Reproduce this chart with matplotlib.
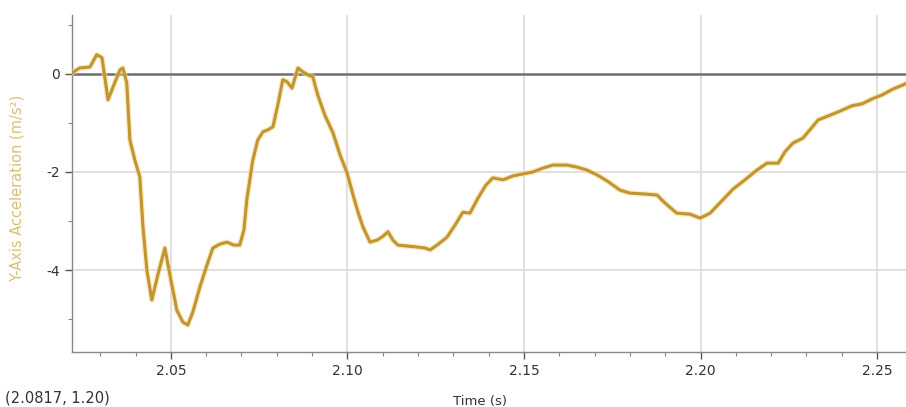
import matplotlib.pyplot as plt
from matplotlib.ticker import MultipleLocator

# Datos
time_s = [2.0220, 2.0242, 2.0271, 2.0290, 2.0305, 2.0322, 2.0341, 2.0356, 2.0364, 2.0375,
          2.0384, 2.0398, 2.0412, 2.0421, 2.0432, 2.0446, 2.0463, 2.0483, 2.0500, 2.0517,
          2.0534, 2.0548, 2.0562, 2.0582, 2.0602, 2.0619, 2.0639, 2.0659, 2.0678, 2.0695,
          2.0707, 2.0715, 2.0732, 2.0746, 2.0761, 2.0775, 2.0789, 2.0803, 2.0817, 2.0829,
          2.0843, 2.0860, 2.0874, 2.0888, 2.0902, 2.0916, 2.0936, 2.0959, 2.0979, 2.0999,
          2.1016, 2.1030, 2.1044, 2.1064, 2.1084, 2.1101, 2.1115, 2.1129, 2.1143, 2.1169,
          2.1197, 2.1220, 2.1234, 2.1254, 2.1282, 2.1305, 2.1327, 2.1347, 2.1370, 2.1392,
          2.1412, 2.1441, 2.1469, 2.1497, 2.1525, 2.1554, 2.1582, 2.1622, 2.1650, 2.1678,
          2.1707, 2.1735, 2.1772, 2.1800, 2.1843, 2.1877, 2.1899, 2.1933, 2.1970, 2.1999,
          2.2027, 2.2055, 2.2092, 2.2126, 2.2160, 2.2188, 2.2220, 2.2239, 2.2262, 2.2290,
          2.2310, 2.2333, 2.2361, 2.2395, 2.2429, 2.2458, 2.2486, 2.2514, 2.2545, 2.2582]
accel = [0.02, 0.12, 0.14, 0.39, 0.33, -0.53, -0.18, 0.08, 0.12, -0.18,
         -1.35, -1.76, -2.10, -3.12, -4.00, -4.61, -4.10, -3.55, -4.20, -4.82,
         -5.06, -5.12, -4.86, -4.35, -3.90, -3.55, -3.47, -3.43, -3.49, -3.49,
         -3.18, -2.57, -1.76, -1.35, -1.18, -1.14, -1.08, -0.63, -0.12, -0.16,
         -0.29, 0.12, 0.04, -0.02, -0.06, -0.43, -0.84, -1.20, -1.65, -2.02,
         -2.47, -2.82, -3.12, -3.43, -3.39, -3.31, -3.22, -3.39, -3.49, -3.51,
         -3.53, -3.55, -3.59, -3.49, -3.33, -3.08, -2.82, -2.84, -2.53, -2.27,
         -2.12, -2.16, -2.08, -2.04, -2.00, -1.92, -1.86, -1.86, -1.90, -1.96,
         -2.06, -2.18, -2.37, -2.43, -2.45, -2.47, -2.63, -2.84, -2.86, -2.94,
         -2.84, -2.63, -2.35, -2.16, -1.96, -1.82, -1.82, -1.59, -1.41, -1.31,
         -1.14, -0.94, -0.86, -0.76, -0.65, -0.61, -0.51, -0.43, -0.31, -0.20]

x_ticks = [2.05, 2.10, 2.15, 2.20, 2.25]
x_labels = ['2.05', '2.10', '2.15', '2.20', '2.25']
y_ticks = [0, -2, -4]
y_labels = ['0', '-2', '-4']

fig = plt.figure(figsize=(9.06, 4.07), dpi=100)
ax = fig.add_axes([72 / 906, 1 - 352 / 407, 1 - 72 / 906, 337 / 407])

ax.set_xlim(2.022, 2.2582)
ax.set_ylim(-5.67, 1.20)

# rejilla
for xt in x_ticks:
  ax.axvline(xt, color='#dcdcdc', lw=1.2, zorder=1)
for yt in [-2, -4]:
  ax.axhline(yt, color='#dcdcdc', lw=1.2, zorder=1)
ax.axhline(0, color='#6e6e6e', lw=1.8, zorder=2)

ax.plot(time_s, accel, color='#f3dc9a', lw=4.0, alpha=0.6, zorder=3)
ax.plot(time_s, accel, color='#c39530', lw=2.2, zorder=4)

ax.set_xticks(x_ticks)
ax.set_xticklabels(x_labels)
ax.set_yticks(y_ticks)
ax.set_yticklabels(y_labels)
ax.xaxis.set_minor_locator(MultipleLocator(0.01))
ax.yaxis.set_minor_locator(MultipleLocator(1))
ax.tick_params(which='major', length=5, width=1, colors='#555555', labelsize=10, labelcolor='#333333')
ax.tick_params(which='minor', length=3, width=0.8, colors='#888888')

for s in ['top', 'right']:
  ax.spines[s].set_visible(False)
for s in ['left', 'bottom']:
  ax.spines[s].set_color('#888888')
  ax.spines[s].set_linewidth(1.0)

fig.text(17 / 906, 1 - 188 / 407, 'Y-Axis Acceleration (m/s²)', color='#d8c07a', fontsize=10.5,
         rotation=90, ha='center', va='center')
fig.text(480 / 906, 1 - 401 / 407, 'Time (s)', color='#333333', fontsize=9.5, ha='center', va='center')
fig.text(5 / 906, 1 - 398 / 407, '(2.0817, 1.20)', fontsize=10.5, color='#333333', va='center')

plt.savefig('out.png', dpi=100)
plt.close()
